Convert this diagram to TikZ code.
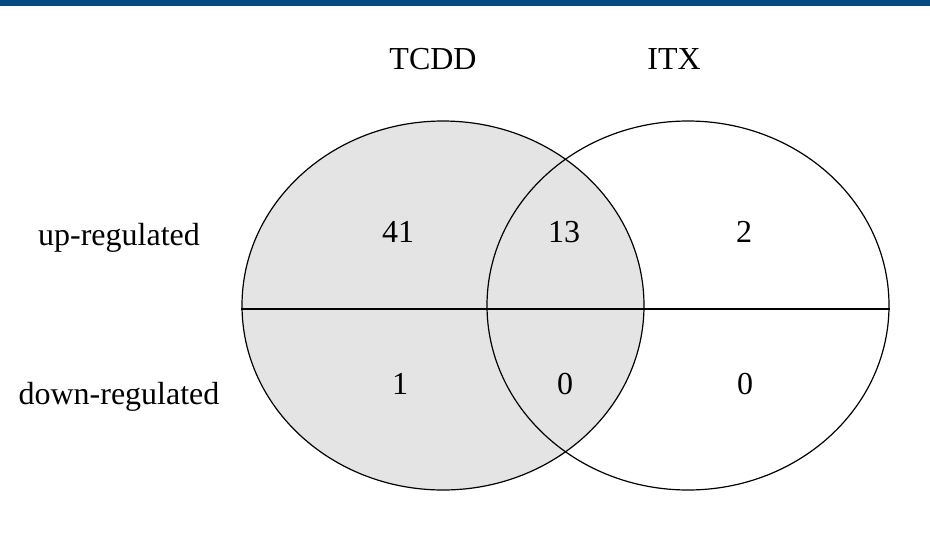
\documentclass[tikz,border=0pt]{standalone}
\usepackage{fontspec}
\setmainfont{Liberation Serif}
\usetikzlibrary{shapes.geometric, positioning}
\definecolor{cbar}{HTML}{004C7A}
\definecolor{cset}{HTML}{E4E4E4}

\begin{document}
\begin{tikzpicture}[x=0.5pt, y=-0.5pt]
    \useasboundingbox (0, 0) rectangle (930, 541);
    \begin{scope}[
        setshape/.style={ellipse, draw=black, line width=0.6pt, minimum width=201pt, minimum height=184.5pt, inner sep=0pt},
        settitle/.style={font=\fontsize{16}{19}\selectfont},
        rowlabel/.style={font=\fontsize{16}{19}\selectfont},
        count/.style={font=\fontsize{16}{19}\selectfont}
    ]
        % ================= top bar =================
        \fill[cbar] (0, 0) rectangle (930, 6);

        % ================= sets =================
        \node[setshape, fill=cset] (tcdd) at (443, 305.5) {};
        \node[setshape] (itx) at (688, 305.5) {};
        \draw[line width=0.6pt] ([yshift=-1.75pt]tcdd.west) -- ([yshift=-1.75pt]itx.east);

        \node[settitle] (tcdd_title) at (433, 59) {TCDD};
        \node[settitle] (itx_title) at (674, 59) {ITX};

        % ================= rows =================
        \node[rowlabel] (up_label) at (119, 237.5) {up-regulated};
        \node[rowlabel] (down_label) at (119, 396.5) {down-regulated};

        % ================= counts =================
        \node[count] (up_tcdd) at (398, 232) {41};
        \node[count] (up_both) at (564, 232) {13};
        \node[count] (up_itx) at (744, 232) {2};
        \node[count] (down_tcdd) at (400, 384) {1};
        \node[count] (down_both) at (565, 384) {0};
        \node[count] (down_itx) at (745, 384) {0};
    \end{scope}
\end{tikzpicture}
\end{document}
